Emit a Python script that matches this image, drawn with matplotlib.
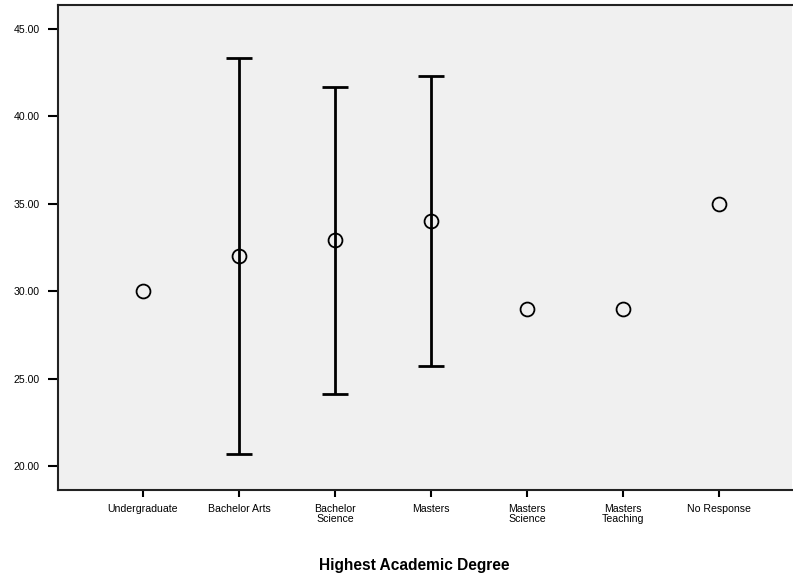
import numpy as np
import matplotlib
matplotlib.use('Agg')
import matplotlib.pyplot as plt

plt.rcParams['font.family'] = ['Liberation Sans', 'DejaVu Sans']

categories = ['Undergraduate', 'Bachelor Arts', 'Bachelor\nScience', 'Masters',
              'Masters\nScience', 'Masters\nTeaching', 'No Response']
means = [30.0, 32.02, 32.9, 34.0, 29.0, 29.0, 35.0]
upper = [np.nan, 43.34, 41.64, 42.28, np.nan, np.nan, np.nan]
lower = [np.nan, 20.7, 24.12, 25.74, np.nan, np.nan, np.nan]
yticks = [20, 25, 30, 35, 40, 45]

fig = plt.figure(figsize=(7.93, 5.78), dpi=100)
ax = fig.add_axes([0.0731, 0.1522, 0.926, 0.8391])
ax.set_facecolor('#f0f0f0')

x = np.arange(len(categories))
for xi, lo, hi in zip(x, lower, upper):
    if np.isnan(lo):
        continue
    ax.plot([xi, xi], [lo, hi], color='black', lw=2.0, solid_capstyle='butt', zorder=2)
    for yv in (lo, hi):
        ax.plot([xi - 0.135, xi + 0.135], [yv, yv], color='black', lw=2.0,
                solid_capstyle='butt', zorder=2)

ax.plot(x, means, linestyle='none', marker='o', markersize=10,
        markerfacecolor='none', markeredgecolor='black', markeredgewidth=1.3, zorder=3)

ax.set_xlim(-0.885, 6.76)
ax.set_ylim(18.63, 46.35)
ax.set_xticks(x)
ax.set_xticklabels(categories, fontsize=7.6, linespacing=1.0)
ax.set_yticks(yticks)
ax.set_yticklabels(['%.2f' % v for v in yticks], fontsize=7.6)
ax.tick_params(axis='y', length=7, width=1.5, pad=6)
ax.tick_params(axis='x', length=5, width=1.5, pad=5)

for s in ['left', 'bottom', 'top']:
    ax.spines[s].set_linewidth(1.5)
    ax.spines[s].set_color('#222222')
ax.spines['right'].set_visible(False)

fig.text(0.522, 0.022, 'Highest Academic Degree', ha='center', va='center',
         fontsize=11.2, fontweight='bold')

plt.savefig('out.png', dpi=100)
